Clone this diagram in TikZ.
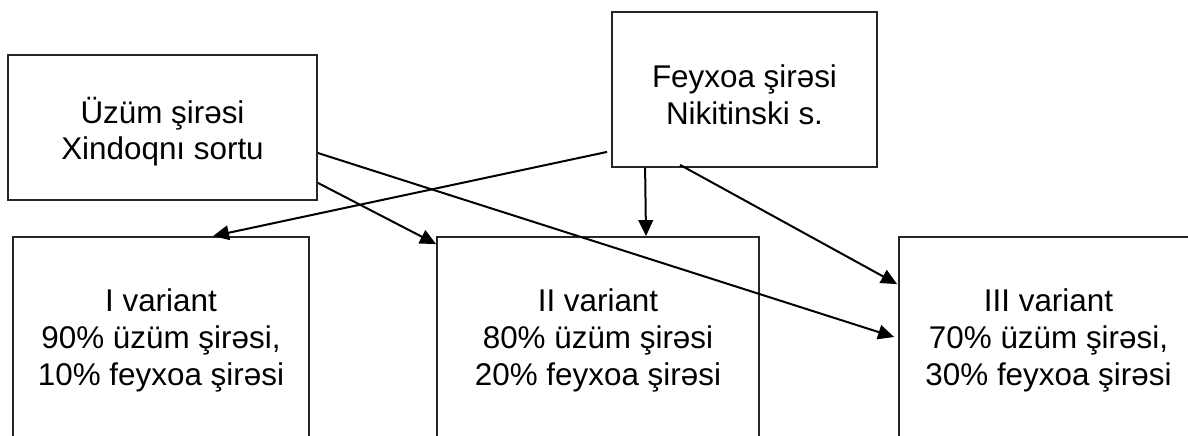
\documentclass[tikz,border=0pt]{standalone}
\usepackage{fontspec}
\setmainfont{Liberation Sans}
\usetikzlibrary{arrows.meta}
\begin{document}
\begin{tikzpicture}[x=0.5pt,y=-0.5pt,
  box/.style={draw=black!85, line width=0.9pt, align=center, inner sep=0pt},
  toptext/.style={font=\fontsize{15.7}{17.6}\selectfont},
  toptextb/.style={font=\fontsize{15.7}{18.8}\selectfont},
  bottext/.style={font=\fontsize{15.7}{18.3}\selectfont},
  arr/.style={line width=1pt, -{Triangle[length=8pt,width=7.3pt]}}]
\useasboundingbox (0,0) rectangle (1188,435);
\clip (0,0) rectangle (1188,435);
% source boxes
\node[box, toptext, minimum width=154.5pt, minimum height=72.5pt] (A) at (162.5,127.5) {\rule{0pt}{17.2pt}Üzüm şirəsi\\Xindoqnı sortu};
\node[box, toptextb, minimum width=132.5pt, minimum height=77.5pt] (B) at (744.5,89.5) {\rule{0pt}{16.6pt}Feyxoa şirəsi\\Nikitinski s.};
% variant boxes
\node[box, bottext, minimum width=148pt, minimum height=101pt] (C) at (161,338) {\rule{0pt}{13.9pt}I variant\\90\% üzüm şirəsi,\\10\% feyxoa şirəsi};
\node[box, bottext, minimum width=161pt, minimum height=101pt] (D) at (598,338) {\rule{0pt}{13.9pt}II variant\\80\% üzüm şirəsi\\20\% feyxoa şirəsi};
\node[box, bottext, minimum width=149.5pt, minimum height=101pt] (E) at (1048.5,338) {\rule{0pt}{13.9pt}III variant\\70\% üzüm şirəsi,\\30\% feyxoa şirəsi};
% connectors
\draw[arr] ([shift={(-4,-16)}]B.south west) -- ([shift={(52,0)}]C.north);
\draw[arr] ([shift={(0,-18)}]A.south east) -- ([shift={(0,8)}]D.north west);
\draw[arr] ([shift={(0,25.5)}]A.east) -- ([shift={(-4,-1)}]E.west);
\draw[arr] ([shift={(34,0)}]B.south west) -- ([shift={(48,0)}]D.north);
\draw[arr] ([shift={(69,-3)}]B.south west) -- ([shift={(-1,48)}]E.north west);
\end{tikzpicture}
\end{document}
